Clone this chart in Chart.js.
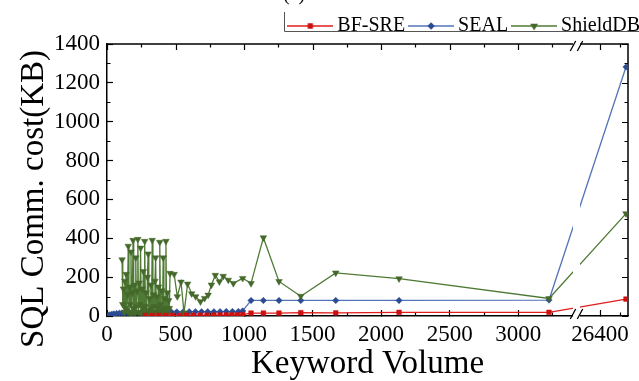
<!DOCTYPE html>
<html>
<head>
<meta charset="utf-8">
<script src="https://cdn.jsdelivr.net/npm/chart.js@4.4.1/dist/chart.umd.min.js"></script>
<style>
  html, body { margin: 0; padding: 0; background: #ffffff; }
  #wrap { width: 639px; height: 381px; }
</style>
</head>
<body>
<div id="wrap"><canvas id="chart" width="639" height="381"></canvas></div>
<script>
// ---- SQL communication cost (KB) versus keyword volume ----

const bfVolume = [280, 330, 380, 430, 480, 530, 580, 630, 680, 730, 780, 825, 870, 910, 950, 990,
  1051, 1141, 1255, 1414, 1669, 2131, 3225, 26530];
const bfCost = [2, 2, 3, 3, 3, 3, 4, 4, 4, 4, 5, 5, 5, 6, 6, 7,
  15, 15, 15, 17, 16, 19, 19, 87];

const sealVolume = [8, 20, 35, 50, 70, 90, 110, 130, 150, 170, 190, 210, 230, 250, 270, 290, 310, 330,
  350, 370, 390, 410, 430, 450, 470, 510, 555, 600, 645, 690, 735, 780, 825, 870, 915, 958, 990,
  1051, 1141, 1255, 1414, 1669, 2131, 3225, 26530];
const sealCost = [3, 6, 9, 11, 13, 14, 15, 15, 16, 16, 17, 17, 17, 18, 18, 18, 19, 19,
  19, 20, 20, 20, 20, 21, 21, 21, 21, 22, 22, 22, 22, 22, 22, 23, 23, 23, 26,
  80, 80, 80, 80, 80, 80, 82, 1282];

const shieldVolume = [110, 115, 120, 125, 130, 135, 140, 145, 150, 155, 160, 165, 170, 175, 180, 185,
  190, 195, 200, 205, 210, 215, 220, 225, 230, 235, 240, 245, 250, 255, 260, 265, 270, 275, 280, 285,
  290, 295, 300, 305, 310, 315, 320, 325, 330, 335, 340, 345, 350, 355, 360, 365, 370, 375, 380, 385,
  390, 395, 400, 405, 410, 415, 420, 425, 430, 435, 440, 445, 450, 455, 460,
  490, 513, 540, 562, 588, 618, 647, 682, 712, 738, 762, 790, 820, 848, 885, 922, 990,
  1051, 1141, 1255, 1414, 1669, 2131, 3225, 26530];
const shieldCost = [290, 60, 140, 20, 180, 40, 215, 30, 110, 360, 20, 150, 60, 330, 10, 120,
  390, 40, 160, 15, 300, 50, 130, 395, 20, 170, 60, 350, 10, 140, 40, 230, 25, 385, 50, 120,
  15, 200, 320, 30, 90, 10, 160, 40, 390, 20, 110, 50, 180, 300, 15, 100, 40, 150, 20, 380,
  60, 10, 130, 30, 300, 20, 90, 40, 385, 30, 120, 10, 80, 40, 220,
  215, 100, 175, 16, 165, 115, 100, 74, 91, 108, 160, 210, 177, 205, 185, 168, 194,
  168, 403, 178, 102, 222, 192, 90, 527];

const seriesNames = ['BF-SRE', 'SEAL', 'ShieldDB'];

// axis ticks
const xMajorTicks = [0, 500, 1000, 1500, 2000, 2500, 3000, 26400];
const xMinorTicks = [250, 750, 1250, 1750, 2250, 2750, 3250, 26500];
const yMajorTicks = [0, 200, 400, 600, 800, 1000, 1200, 1400];
const yMinorTicks = [100, 300, 500, 700, 900, 1100, 1300];

// the keyword axis is broken: a long low-volume part and a short part around 26400
const xSegments = [
  { min: 0, max: 3400, from: 0, to: 0.8944 },
  { min: 26300, max: 26540, from: 0.9079, to: 1 }
];

const FONT = "'Liberation Serif', 'Times New Roman', serif";

class BrokenLinearScale extends Chart.LinearScale {
  static id = 'brokenLinear';
  static defaults = {};
  buildTicks() {
    return xMajorTicks.map(v => ({ value: v }));
  }
  toDecimal(v) {
    for (let i = 0; i < xSegments.length; i++) {
      const s = xSegments[i];
      if (v <= s.max || i === xSegments.length - 1) {
        if (i > 0 && v < s.min) {
          const p = xSegments[i - 1];
          return p.to + (v - p.max) / (s.min - p.max) * (s.from - p.to);
        }
        return s.from + (v - s.min) / (s.max - s.min) * (s.to - s.from);
      }
    }
    return 0;
  }
  getPixelForValue(value) {
    if (value === null || value === undefined || isNaN(value)) return NaN;
    return this.getPixelForDecimal(this.toDecimal(value));
  }
  getValueForPixel(pixel) {
    const d = this.getDecimalForPixel(pixel);
    for (let i = 0; i < xSegments.length; i++) {
      const s = xSegments[i];
      if (d <= s.to || i === xSegments.length - 1) {
        return s.min + (d - s.from) / (s.to - s.from) * (s.max - s.min);
      }
    }
    return 0;
  }
}
Chart.register(BrokenLinearScale);

const styles = [
  { line: '#e11d1d', mark: '#cc1010', point: 'rect', radius: 3.3, rotation: 0 },
  { line: '#5374b8', mark: '#2b4b93', point: 'rectRot', radius: 3.2, rotation: 0 },
  { line: '#4f7a35', mark: '#44692a', point: 'triangle', radius: 3.8, rotation: 180 }
];

function legendGlyph(st) {
  const c = document.createElement('canvas');
  c.width = 46; c.height = 12;
  const g = c.getContext('2d');
  g.strokeStyle = st.line; g.lineWidth = 1.3;
  g.beginPath(); g.moveTo(0, 6); g.lineTo(46, 6); g.stroke();
  g.fillStyle = st.mark; g.strokeStyle = st.mark;
  Chart.helpers.drawPoint(g, { pointStyle: st.point, radius: st.radius * 0.85, rotation: st.rotation, borderWidth: 0.5 }, 23, 6);
  return c;
}
const glyphs = styles.map(legendGlyph);

function series(i, xs, ys, order) {
  const st = styles[i];
  return {
    label: seriesNames[i],
    data: xs.map((x, k) => ({ x: x, y: ys[k] })),
    borderColor: st.line,
    backgroundColor: st.mark,
    borderWidth: 1.3,
    pointStyle: st.point,
    pointRadius: st.radius,
    pointRotation: st.rotation,
    pointBackgroundColor: st.mark,
    pointBorderColor: st.mark,
    pointBorderWidth: 0.5,
    tension: 0,
    order: order
  };
}

// frame, inward ticks, axis break and side texts
const decorations = {
  id: 'decorations',
  afterLayout(chart) {
    const lg = chart.legend;
    lg.left += 10; lg.right += 10; lg.top += 2; lg.bottom += 2;
  },
  beforeDatasetsDraw(chart) {
    const { ctx, chartArea: a, scales: { x, y } } = chart;
    ctx.save();
    ctx.strokeStyle = '#000';
    ctx.lineWidth = 1.5;
    ctx.beginPath();
    ctx.moveTo(a.left, a.top); ctx.lineTo(a.right, a.top); ctx.lineTo(a.right, a.bottom);
    ctx.stroke();
    ctx.lineWidth = 1.2;
    ctx.beginPath();
    const tickX = (v, len) => {
      const px = Math.round(x.getPixelForValue(v)) + 0.5;
      ctx.moveTo(px, a.bottom); ctx.lineTo(px, a.bottom - len);
      ctx.moveTo(px, a.top); ctx.lineTo(px, a.top + len);
    };
    const tickY = (v, len) => {
      const py = Math.round(y.getPixelForValue(v)) + 0.5;
      ctx.moveTo(a.left, py); ctx.lineTo(a.left + len, py);
      ctx.moveTo(a.right, py); ctx.lineTo(a.right - len, py);
    };
    xMinorTicks.forEach(v => tickX(v, 3.5));
    yMinorTicks.forEach(v => tickY(v, 3.5));
    xMajorTicks.forEach(v => {
      const px = Math.round(x.getPixelForValue(v)) + 0.5;
      ctx.moveTo(px, a.top); ctx.lineTo(px, a.top + 6);
    });
    yMajorTicks.forEach(v => {
      const py = Math.round(y.getPixelForValue(v)) + 0.5;
      ctx.moveTo(a.right, py); ctx.lineTo(a.right - 6, py);
    });
    ctx.stroke();
    ctx.restore();
  },
  afterDatasetsDraw(chart) {
    const { ctx, chartArea: a, scales: { x } } = chart;
    const b0 = x.getPixelForValue(xSegments[0].max);
    const b1 = x.getPixelForValue(xSegments[1].min);
    ctx.save();
    ctx.fillStyle = '#ffffff';
    ctx.fillRect(b0, a.top - 2, b1 - b0, a.bottom - a.top + 4);
    ctx.strokeStyle = '#000';
    ctx.lineWidth = 1.3;
    ctx.beginPath();
    [[b0, a.top + 2], [b1, a.top + 2], [b0, a.bottom - 2], [b1, a.bottom - 2]].forEach(([cx, cy]) => {
      ctx.moveTo(cx - 2.7, cy + 5); ctx.lineTo(cx + 2.7, cy - 5);
    });
    ctx.stroke();
    ctx.restore();
  },
  afterDraw(chart) {
    const { ctx } = chart;
    ctx.save();
    // legend frame
    ctx.strokeStyle = '#555';
    ctx.lineWidth = 1;
    ctx.beginPath();
    ctx.moveTo(284.5, 12); ctx.lineTo(284.5, 31.5); ctx.lineTo(639, 31.5);
    ctx.stroke();
    // panel tag
    ctx.fillStyle = '#000';
    ctx.font = '20px ' + FONT;
    ctx.textAlign = 'left';
    ctx.textBaseline = 'alphabetic';
    ctx.fillText('(a)', 283, 0);
    // y-axis title
    ctx.translate(34, 199);
    ctx.rotate(-Math.PI / 2);
    ctx.font = '33px ' + FONT;
    ctx.textAlign = 'center';
    ctx.textBaseline = 'middle';
    ctx.fillText('SQL Comm. cost(KB)', 0, 0);
    ctx.restore();
  }
};

new Chart(document.getElementById('chart'), {
  type: 'line',
  data: {
    datasets: [
      series(0, bfVolume, bfCost, 0),
      series(1, sealVolume, sealCost, 2),
      series(2, shieldVolume, shieldCost, 1)
    ]
  },
  plugins: [decorations],
  options: {
    responsive: false,
    animation: false,
    events: [],
    layout: { padding: 0 },
    plugins: {
      tooltip: { enabled: false },
      legend: {
        position: 'top',
        align: 'end',
        labels: {
          usePointStyle: true,
          pointStyleWidth: 34,
          padding: 9,
          color: '#000',
          font: { family: FONT, size: 20 },
          generateLabels: (chart) => chart.data.datasets.map((ds, i) => ({
            text: ds.label,
            datasetIndex: i,
            pointStyle: glyphs[i],
            fillStyle: ds.borderColor,
            strokeStyle: ds.borderColor,
            lineWidth: 0,
            hidden: false,
            fontColor: '#000',
            rotation: 0
          }))
        }
      }
    },
    scales: {
      x: {
        type: 'brokenLinear',
        min: 0,
        max: 26540,
        grid: { display: true, drawOnChartArea: false, drawTicks: true, tickLength: -6, tickColor: '#000', tickWidth: 1.2 },
        border: { display: true, color: '#000', width: 1.5 },
        ticks: {
          autoSkip: false, maxRotation: 0, padding: 11, color: '#000',
          font: { family: FONT, size: 23 },
          callback: (v) => String(v)
        },
        title: {
          display: true, text: 'Keyword Volume', color: '#000', padding: 0,
          font: { family: FONT, size: 33, lineHeight: 1 }
        },
        afterFit: (s) => { s.height = 65; s.paddingRight = 11; }
      },
      y: {
        min: 0,
        max: 1400,
        grid: { display: true, drawOnChartArea: false, drawTicks: true, tickLength: -6, tickColor: '#000', tickWidth: 1.2 },
        border: { display: true, color: '#000', width: 1.5 },
        ticks: {
          stepSize: 200, padding: 13, color: '#000',
          font: { family: FONT, size: 23 },
          callback: (v) => String(v)
        },
        afterFit: (s) => { s.width = 107; s.paddingTop = 44; }
      }
    }
  }
});
</script>
</body>
</html>
